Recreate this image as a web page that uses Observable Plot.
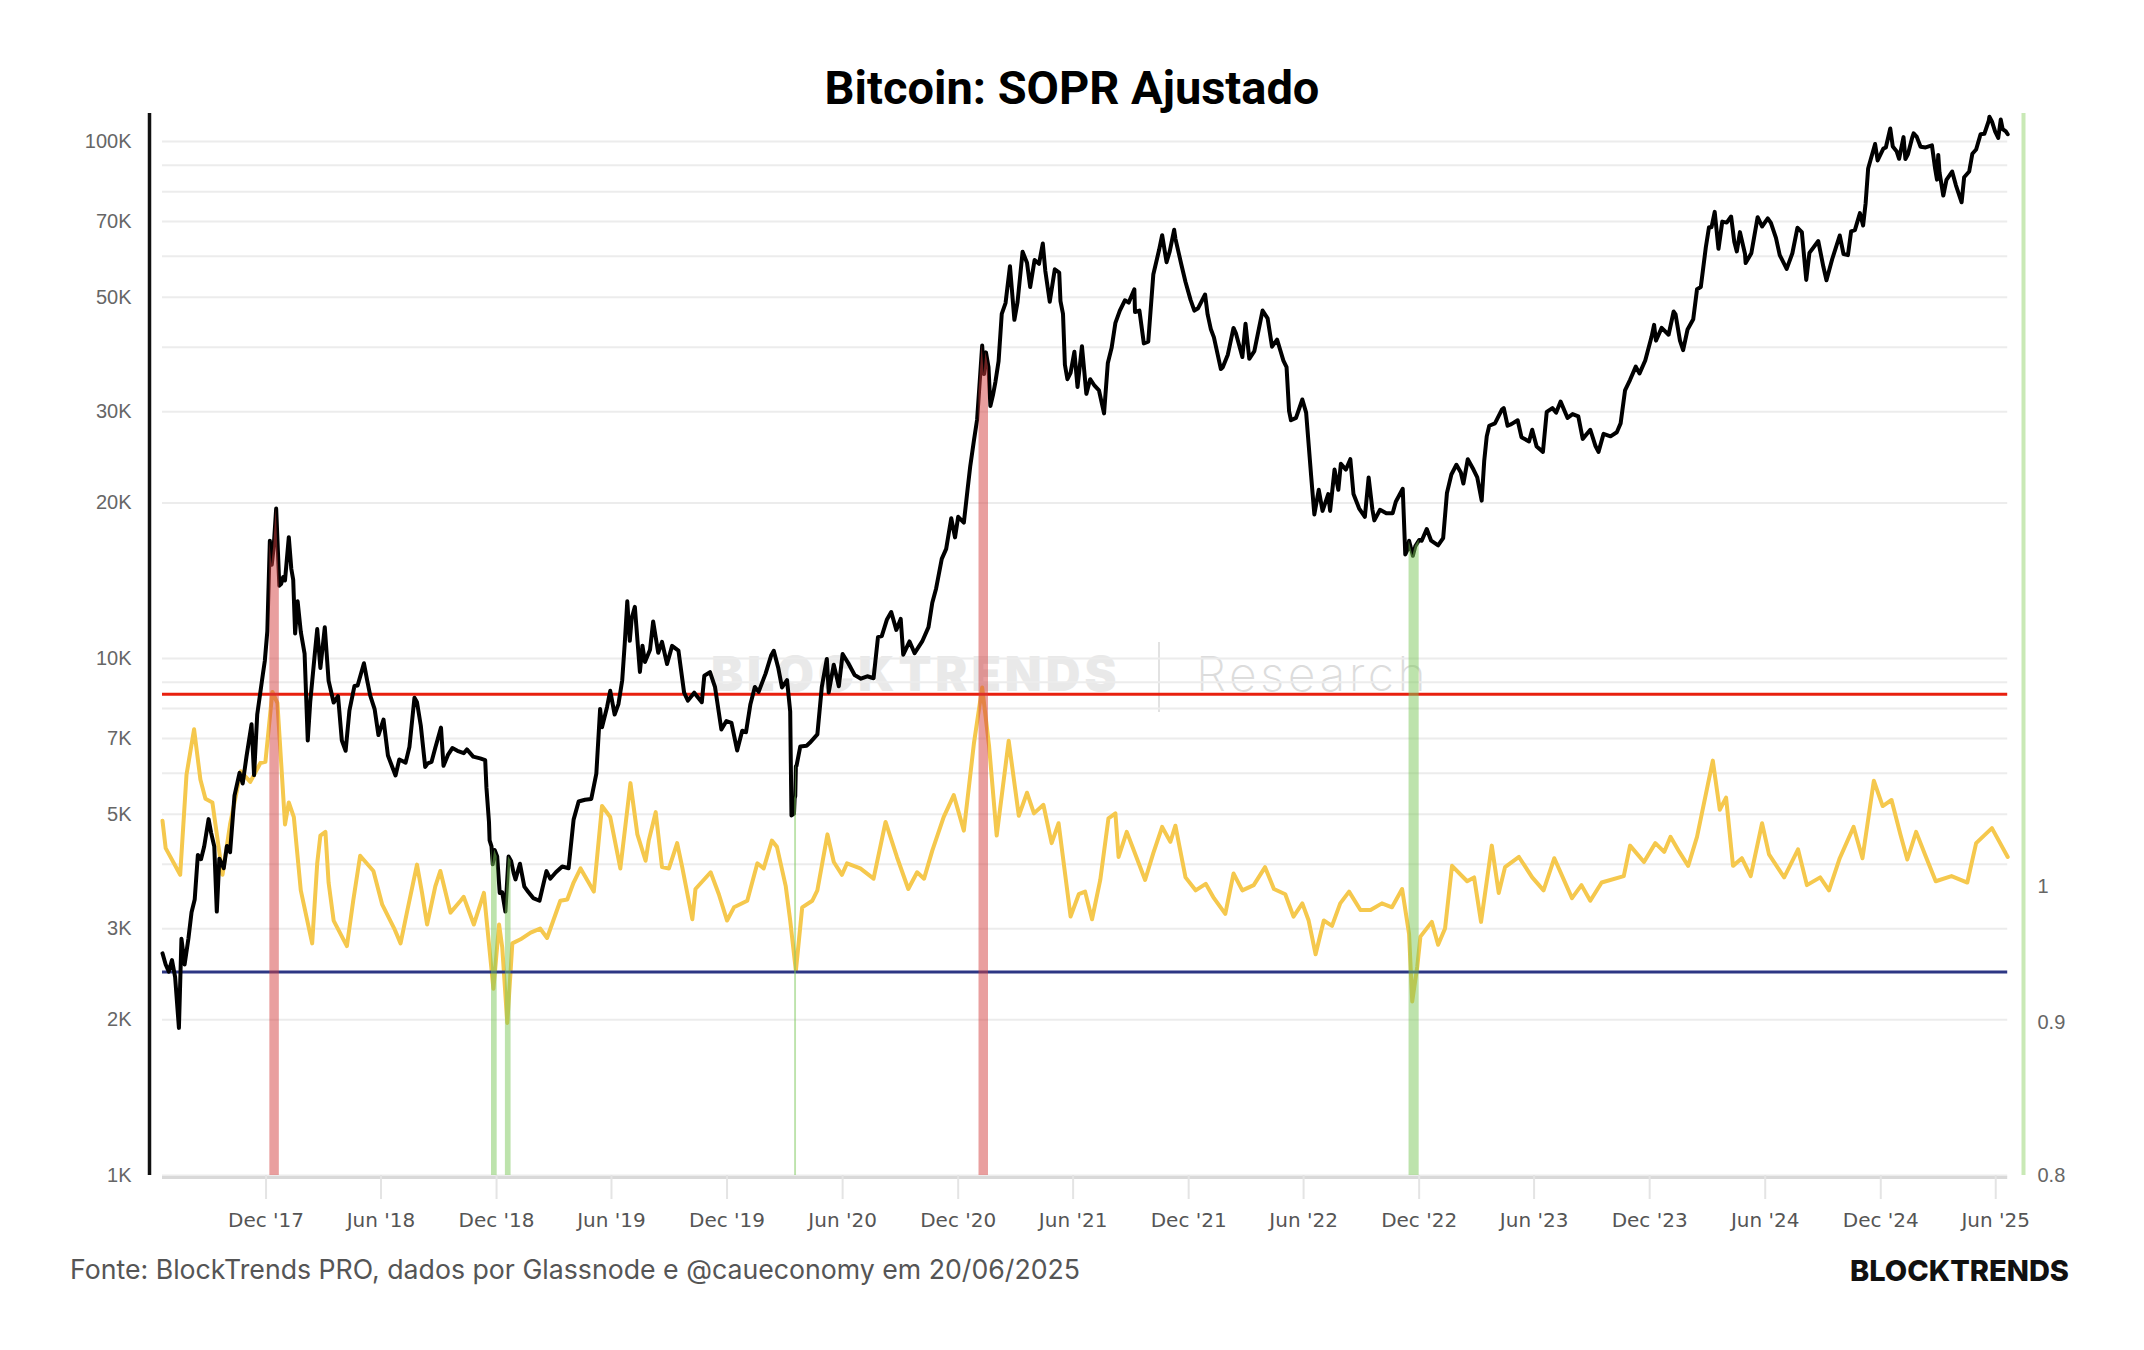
<!DOCTYPE html>
<html>
<head>
<meta charset="utf-8">
<script src="https://cdn.jsdelivr.net/npm/d3@7"></script>
<script src="https://cdn.jsdelivr.net/npm/@observablehq/plot@0.6"></script>
<style>
  html, body { margin: 0; padding: 0; background: #fff; }
  #page { position: relative; width: 2144px; height: 1350px; overflow: hidden; background: #fff; }
  #title { position: absolute; left: 0; top: 64px; width: 2144px; text-align: center;
           font: 700 47px Roboto, "Liberation Sans", sans-serif; line-height: 1; color: #000; }
  #chart { position: absolute; left: 0; top: 100px; width: 2144px; height: 1140px; }
  #chart svg { position: absolute; left: 0; top: 0; background: transparent !important; max-width: none !important; overflow: visible; }
  #wm { position: absolute; left: 0; top: 0; width: 2144px; height: 1350px; pointer-events: none; }
  #wm .b { position: absolute; left: 711px; top: 650px; font: 900 48px Inter, sans-serif; letter-spacing: 4px; color: #e9e9e9; line-height: 1; }
  #wm .bar { position: absolute; left: 1158px; top: 642px; width: 2px; height: 70px; background: #e2e2e2; }
  #wm .r { position: absolute; left: 1196px; top: 650px; font: 200 48px Inter, sans-serif; letter-spacing: 3.5px; color: #dcdcdc; line-height: 1; }
  #footer { position: absolute; left: 70px; top: 1256px; font: 400 26.7px Inter, sans-serif; color: #555; line-height: 1; }
  #logo { position: absolute; right: 75px; top: 1256px; font: 800 29px Inter, sans-serif; color: #111; line-height: 1; }
</style>
</head>
<body>
<div id="page">
  <div id="wm"><div class="b">BLOCKTRENDS</div><div class="bar"></div><div class="r">Research</div></div>
  <div id="title">Bitcoin: SOPR Ajustado</div>
  <div id="chart"></div>
  <div id="footer">Fonte: BlockTrends PRO, dados por Glassnode e @caueconomy em 20/06/2025</div>
  <div id="logo">BLOCKTRENDS</div>
</div>
<script>
// ---------- DATA ----------
const btcPrice = [
["2017-06-20",2690],["2017-06-25",2560],["2017-06-30",2480],["2017-07-05",2610],["2017-07-10",2420],["2017-07-16",1930],["2017-07-20",2870],["2017-07-25",2560],["2017-07-31",2870],["2017-08-05",3230],["2017-08-10",3420],["2017-08-15",4170],["2017-08-20",4090],["2017-08-25",4330],["2017-09-01",4890],["2017-09-05",4600],["2017-09-10",4330],["2017-09-14",3240],["2017-09-18",4100],["2017-09-25",3930],["2017-09-30",4340],["2017-10-05",4220],["2017-10-12",5430],["2017-10-20",6010],["2017-10-25",5730],["2017-10-31",6460],["2017-11-08",7460],["2017-11-12",5950],["2017-11-17",7790],["2017-11-26",9330],["2017-11-29",9890],["2017-12-03",11290],["2017-12-07",16900],["2017-12-10",15180],["2017-12-13",16400],["2017-12-17",19500],["2017-12-22",13830],["2017-12-25",13950],["2017-12-28",14380],["2017-12-31",14160],
["2018-01-06",17170],["2018-01-10",14900],["2018-01-13",14190],["2018-01-16",11180],["2018-01-20",12900],["2018-01-25",11260],["2018-01-31",10220],["2018-02-05",6940],["2018-02-09",8260],["2018-02-16",10160],["2018-02-20",11400],["2018-02-25",9590],["2018-03-04",11490],["2018-03-10",9060],["2018-03-18",8220],["2018-03-25",8460],["2018-03-31",6940],["2018-04-06",6630],["2018-04-12",7930],["2018-04-20",8850],["2018-04-25",8870],["2018-05-05",9790],["2018-05-10",9080],["2018-05-15",8480],["2018-05-22",7970],["2018-05-28",7110],["2018-06-05",7620],["2018-06-12",6490],["2018-06-24",5940],["2018-06-30",6380],["2018-07-10",6290],["2018-07-16",6740],["2018-07-24",8400],["2018-07-28",8230],["2018-08-03",7420],["2018-08-10",6170],["2018-08-14",6270],["2018-08-20",6310],["2018-08-26",6720],["2018-09-04",7350],["2018-09-08",6200],["2018-09-15",6510],["2018-09-22",6710],["2018-09-30",6630],["2018-10-10",6560],["2018-10-15",6670],["2018-10-25",6460],["2018-11-05",6410],["2018-11-13",6360],["2018-11-15",5620],["2018-11-19",4830],["2018-11-20",4450],["2018-11-23",4330],["2018-11-25",4000],["2018-11-28",4260],["2018-12-02",4140],["2018-12-06",3520],["2018-12-10",3530],["2018-12-15",3240],["2018-12-20",4140],["2018-12-24",4060],["2018-12-28",3850],["2018-12-31",3740],
["2019-01-07",4010],["2019-01-14",3620],["2019-01-20",3540],["2019-01-28",3440],["2019-02-07",3400],["2019-02-18",3880],["2019-02-24",3750],["2019-03-05",3860],["2019-03-15",3960],["2019-03-25",3930],["2019-04-02",4880],["2019-04-10",5290],["2019-04-20",5330],["2019-04-30",5350],["2019-05-08",5990],["2019-05-14",7990],["2019-05-17",7360],["2019-05-25",8060],["2019-05-30",8660],["2019-06-06",7790],["2019-06-12",8160],["2019-06-18",9080],["2019-06-22",10700],["2019-06-26",12900],["2019-06-30",10820],["2019-07-03",11960],["2019-07-08",12590],["2019-07-16",9420],["2019-07-20",10590],["2019-07-24",9850],["2019-08-01",10400],["2019-08-06",11790],["2019-08-14",10260],["2019-08-20",10770],["2019-08-28",9760],["2019-09-05",10580],["2019-09-15",10360],["2019-09-24",8590],["2019-09-30",8290],["2019-10-10",8590],["2019-10-22",8230],["2019-10-26",9260],["2019-11-04",9410],["2019-11-12",8800],["2019-11-22",7290],["2019-11-30",7570],["2019-12-08",7510],["2019-12-17",6640],["2019-12-25",7250],["2019-12-31",7200],
["2020-01-07",8160],["2020-01-14",8810],["2020-01-20",8620],["2020-01-31",9350],["2020-02-09",10150],["2020-02-13",10350],["2020-02-20",9600],["2020-02-26",8790],["2020-03-05",9080],["2020-03-10",7900],["2020-03-12",4970],["2020-03-16",5010],["2020-03-17",5360],["2020-03-18",5420],["2020-03-19",6190],["2020-03-20",6200],["2020-03-26",6760],["2020-04-05",6780],["2020-04-10",6870],["2020-04-22",7130],["2020-04-29",8800],["2020-05-07",9980],["2020-05-10",8600],["2020-05-18",9730],["2020-05-26",8840],["2020-06-01",10200],["2020-06-10",9790],["2020-06-20",9290],["2020-06-30",9140],["2020-07-10",9240],["2020-07-20",9160],["2020-07-27",11000],["2020-08-02",11050],["2020-08-10",11880],["2020-08-17",12300],["2020-08-25",11360],["2020-09-01",11930],["2020-09-05",10170],["2020-09-15",10790],["2020-09-23",10240],["2020-10-05",10790],["2020-10-15",11500],["2020-10-21",12820],["2020-10-27",13650],["2020-11-05",15590],["2020-11-12",16300],["2020-11-20",18680],["2020-11-26",17150],["2020-12-01",18800],["2020-12-10",18320],["2020-12-16",21300],["2020-12-20",23500],["2020-12-26",26440],["2020-12-31",29000],
["2021-01-03",32780],["2021-01-08",40300],["2021-01-11",35500],["2021-01-14",39100],["2021-01-18",36600],["2021-01-21",30800],["2021-01-25",32300],["2021-01-29",34300],["2021-02-03",37600],["2021-02-08",46400],["2021-02-14",48700],["2021-02-21",57400],["2021-02-28",45200],["2021-03-05",48900],["2021-03-13",61200],["2021-03-20",58300],["2021-03-25",52300],["2021-04-01",59000],["2021-04-08",58000],["2021-04-14",63500],["2021-04-18",56200],["2021-04-25",49000],["2021-05-03",56600],["2021-05-10",55800],["2021-05-12",49150],["2021-05-16",46400],["2021-05-19",37000],["2021-05-23",34700],["2021-05-28",35700],["2021-06-03",39200],["2021-06-08",33500],["2021-06-15",40200],["2021-06-22",32500],["2021-06-28",34700],["2021-07-05",33700],["2021-07-12",33000],["2021-07-20",29800],["2021-07-26",37300],["2021-08-01",39900],["2021-08-07",44600],["2021-08-14",47100],["2021-08-22",49300],["2021-08-28",48800],["2021-09-06",51800],["2021-09-07",46800],["2021-09-14",47100],["2021-09-21",40700],["2021-09-28",41000],["2021-10-06",55300],["2021-10-15",61600],["2021-10-20",65900],["2021-10-27",58400],["2021-11-01",61300],["2021-11-08",67500],["2021-11-10",64900],["2021-11-16",60300],["2021-11-19",58100],["2021-11-26",53500],["2021-12-04",49400],["2021-12-10",47100],["2021-12-16",47600],["2021-12-27",50600],["2021-12-31",46300],
["2022-01-05",43400],["2022-01-10",41800],["2022-01-21",36300],["2022-01-24",36600],["2022-02-01",38700],["2022-02-10",43600],["2022-02-14",42500],["2022-02-24",38300],["2022-03-01",44400],["2022-03-07",38000],["2022-03-15",39300],["2022-03-28",47100],["2022-04-05",45500],["2022-04-12",40100],["2022-04-20",41400],["2022-04-30",37700],["2022-05-05",36600],["2022-05-09",30100],["2022-05-12",28900],["2022-05-20",29200],["2022-05-30",31700],["2022-06-05",29900],["2022-06-13",22500],["2022-06-18",19000],["2022-06-25",21200],["2022-07-01",19300],["2022-07-10",20800],["2022-07-13",19300],["2022-07-20",23200],["2022-07-26",21200],["2022-07-30",23800],["2022-08-07",23200],["2022-08-14",24300],["2022-08-19",20800],["2022-08-28",19500],["2022-09-06",18800],["2022-09-12",22400],["2022-09-18",19400],["2022-09-21",18500],["2022-09-30",19400],["2022-10-10",19100],["2022-10-20",19100],["2022-10-25",20100],["2022-11-05",21300],["2022-11-09",15900],["2022-11-13",16300],["2022-11-15",16900],["2022-11-21",15800],["2022-11-25",16500],["2022-12-01",16950],["2022-12-05",16900],["2022-12-13",17800],["2022-12-20",16900],["2022-12-31",16550],
["2023-01-08",17100],["2023-01-14",20900],["2023-01-21",22700],["2023-01-29",23700],["2023-02-05",22900],["2023-02-09",21800],["2023-02-16",24300],["2023-02-25",23200],["2023-03-03",22400],["2023-03-10",20200],["2023-03-14",24100],["2023-03-18",26900],["2023-03-22",28200],["2023-03-31",28500],["2023-04-11",30300],["2023-04-14",30500],["2023-04-20",28200],["2023-04-26",28400],["2023-05-06",28900],["2023-05-12",26800],["2023-05-24",26300],["2023-05-29",27700],["2023-06-05",25700],["2023-06-15",25100],["2023-06-21",30000],["2023-06-30",30500],["2023-07-06",29900],["2023-07-13",31400],["2023-07-24",29200],["2023-08-01",29700],["2023-08-10",29400],["2023-08-17",26600],["2023-08-29",27700],["2023-09-06",25800],["2023-09-11",25100],["2023-09-19",27200],["2023-09-30",26900],["2023-10-10",27400],["2023-10-16",28500],["2023-10-23",33000],["2023-10-31",34600],["2023-11-09",36700],["2023-11-15",35600],["2023-11-24",37700],["2023-12-04",41900],["2023-12-08",44200],["2023-12-11",41200],["2023-12-20",43600],["2023-12-31",42300],
["2024-01-08",46900],["2024-01-11",46300],["2024-01-18",41200],["2024-01-23",39500],["2024-01-30",43300],["2024-02-08",45300],["2024-02-14",51800],["2024-02-20",52300],["2024-02-28",62500],["2024-03-04",68300],["2024-03-08",68300],["2024-03-13",73100],["2024-03-19",62000],["2024-03-25",70000],["2024-04-01",69700],["2024-04-08",71600],["2024-04-13",64000],["2024-04-17",61300],["2024-04-22",66800],["2024-04-30",60600],["2024-05-01",58200],["2024-05-10",60800],["2024-05-20",71400],["2024-05-27",68500],["2024-06-05",71000],["2024-06-10",69600],["2024-06-18",65100],["2024-06-24",60300],["2024-07-05",56700],["2024-07-14",60800],["2024-07-22",68100],["2024-07-29",66800],["2024-08-05",54000],["2024-08-10",60900],["2024-08-24",64200],["2024-09-01",57300],["2024-09-06",53900],["2024-09-15",59200],["2024-09-27",65800],["2024-10-03",60600],["2024-10-10",60300],["2024-10-15",67000],["2024-10-21",67400],["2024-10-29",72700],["2024-11-03",68800],["2024-11-07",76000],["2024-11-11",88700],["2024-11-13",90500],["2024-11-22",98900],["2024-11-26",91900],["2024-12-05",96900],["2024-12-09",97400],["2024-12-16",106000],["2024-12-20",97800],["2024-12-26",95800],["2024-12-30",92600],
["2025-01-06",102000],["2025-01-09",92500],["2025-01-13",94500],["2025-01-20",102000],["2025-01-22",103700],["2025-01-27",102100],["2025-02-02",97700],["2025-02-10",97400],["2025-02-20",98300],["2025-02-25",88700],["2025-02-28",84400],["2025-03-02",94200],["2025-03-04",87200],["2025-03-10",78600],["2025-03-15",84300],["2025-03-24",87500],["2025-03-30",82300],["2025-04-08",76300],["2025-04-12",85300],["2025-04-20",87500],["2025-04-25",94700],["2025-05-01",96500],["2025-05-08",103300],["2025-05-14",103500],["2025-05-21",109700],["2025-05-22",111700],["2025-05-26",109400],["2025-05-31",104600],["2025-06-05",101600],["2025-06-09",110300],["2025-06-12",105700],["2025-06-17",104600],["2025-06-20",103300]
];

const soprAdjusted = [
["2017-06-20",1.052],["2017-06-25",1.030],["2017-07-18",1.009],["2017-07-28",1.090],["2017-08-09",1.129],["2017-08-19",1.086],["2017-08-27",1.070],["2017-09-07",1.067],["2017-09-23",1.009],["2017-10-05",1.049],["2017-10-22",1.093],["2017-11-06",1.084],["2017-11-22",1.100],["2017-11-30",1.101],["2017-12-11",1.162],["2017-12-19",1.152],["2017-12-31",1.049],
["2018-01-06",1.067],["2018-01-14",1.055],["2018-01-25",0.997],["2018-02-12",0.957],["2018-02-20",1.018],["2018-02-25",1.040],["2018-03-05",1.043],["2018-03-10",1.003],["2018-03-18",0.974],["2018-04-08",0.955],["2018-04-18",0.989],["2018-04-29",1.024],["2018-05-20",1.012],["2018-06-03",0.986],["2018-06-22",0.968],["2018-07-02",0.957],["2018-07-12",0.980],["2018-07-28",1.017],["2018-08-05",0.995],["2018-08-13",0.971],["2018-08-26",1.000],["2018-09-03",1.012],["2018-09-19",0.980],["2018-10-05",0.989],["2018-10-10",0.992],["2018-10-26",0.971],["2018-11-11",0.995],["2018-11-26",0.924],["2018-12-05",0.971],["2018-12-10",0.954],["2018-12-18",0.900],["2018-12-26",0.957],
["2019-01-08",0.960],["2019-01-24",0.965],["2019-02-08",0.968],["2019-02-19",0.961],["2019-03-12",0.989],["2019-03-23",0.990],["2019-04-02",1.003],["2019-04-13",1.014],["2019-05-04",0.996],["2019-05-17",1.064],["2019-05-30",1.055],["2019-06-15",1.014],["2019-07-01",1.083],["2019-07-12",1.041],["2019-07-25",1.020],["2019-07-30",1.036],["2019-08-10",1.059],["2019-08-20",1.015],["2019-08-31",1.014],["2019-09-13",1.034],["2019-09-21",1.015],["2019-10-07",0.975],["2019-10-12",0.998],["2019-11-05",1.011],["2019-11-18",0.994],["2019-12-01",0.974],["2019-12-12",0.984],
["2020-01-02",0.989],["2020-01-18",1.018],["2020-01-28",1.014],["2020-02-10",1.036],["2020-02-18",1.031],["2020-03-03",1.000],["2020-03-10",0.974],["2020-03-19",0.937],["2020-03-29",0.984],["2020-04-14",0.989],["2020-04-22",0.997],["2020-05-08",1.041],["2020-05-18",1.019],["2020-05-31",1.009],["2020-06-08",1.018],["2020-06-29",1.014],["2020-07-20",1.006],["2020-08-08",1.051],["2020-08-26",1.023],["2020-09-13",0.998],["2020-09-27",1.011],["2020-10-08",1.006],["2020-10-21",1.028],["2020-11-08",1.055],["2020-11-24",1.073],["2020-12-10",1.044],["2020-12-26",1.117],
["2021-01-08",1.166],["2021-01-19",1.114],["2021-01-31",1.040],["2021-02-19",1.119],["2021-03-07",1.056],["2021-03-20",1.075],["2021-03-31",1.058],["2021-04-15",1.065],["2021-04-28",1.034],["2021-05-09",1.050],["2021-05-28",0.977],["2021-06-10",0.994],["2021-06-20",0.996],["2021-07-01",0.975],["2021-07-14",1.005],["2021-07-27",1.054],["2021-08-07",1.058],["2021-08-12",1.023],["2021-08-25",1.043],["2021-09-23",1.005],["2021-10-06",1.026],["2021-10-20",1.047],["2021-11-02",1.035],["2021-11-10",1.048],["2021-11-26",1.007],["2021-12-12",0.997],["2021-12-28",1.002],
["2022-01-10",0.991],["2022-01-28",0.979],["2022-02-10",1.010],["2022-02-24",0.997],["2022-03-14",1.001],["2022-04-01",1.015],["2022-04-15",0.998],["2022-05-03",0.994],["2022-05-16",0.977],["2022-05-30",0.987],["2022-06-09",0.974],["2022-06-20",0.949],["2022-07-03",0.974],["2022-07-16",0.970],["2022-07-29",0.987],["2022-08-12",0.996],["2022-08-30",0.982],["2022-09-15",0.982],["2022-10-03",0.987],["2022-10-19",0.984],["2022-11-04",0.998],["2022-11-15",0.964],["2022-11-20",0.915],["2022-11-28",0.940],["2022-12-03",0.962],["2022-12-21",0.973],["2022-12-31",0.956],
["2023-01-11",0.968],["2023-01-22",1.016],["2023-02-15",1.004],["2023-02-26",1.007],["2023-03-09",0.973],["2023-03-26",1.032],["2023-04-06",0.995],["2023-04-16",1.015],["2023-05-08",1.023],["2023-05-29",1.007],["2023-06-16",0.997],["2023-07-03",1.022],["2023-07-31",0.991],["2023-08-15",1.001],["2023-08-29",0.989],["2023-09-16",1.003],["2023-10-21",1.008],["2023-10-31",1.032],["2023-11-22",1.019],["2023-12-10",1.034],["2023-12-24",1.027],
["2024-01-03",1.039],["2024-01-17",1.027],["2024-01-31",1.016],["2024-02-14",1.039],["2024-03-10",1.102],["2024-03-21",1.061],["2024-03-31",1.071],["2024-04-11",1.016],["2024-04-25",1.022],["2024-05-09",1.008],["2024-05-27",1.050],["2024-06-07",1.025],["2024-07-01",1.007],["2024-07-23",1.029],["2024-08-06",1.001],["2024-08-27",1.007],["2024-09-10",0.997],["2024-09-27",1.022],["2024-10-19",1.047],["2024-11-02",1.022],["2024-11-20",1.085],["2024-12-04",1.064],["2024-12-18",1.069],
["2025-01-01",1.041],["2025-01-12",1.021],["2025-01-26",1.043],["2025-02-09",1.025],["2025-02-26",1.004],["2025-03-23",1.008],["2025-04-17",1.003],["2025-05-01",1.034],["2025-05-26",1.046],["2025-06-20",1.023]
];

// Signal periods (SOPR above upper / below lower threshold)
const redSignals = [["2017-12-07","2017-12-22"],["2021-01-03","2021-01-18"]];
const greenSignals = [["2018-11-23","2018-12-02"],["2018-12-15","2018-12-24"],["2020-03-17","2020-03-20"],["2022-11-15","2022-12-01"]];

const soprUpper = 1.16;
const soprLower = 0.936;

const priceTickLabels = [1000, 2000, 3000, 5000, 7000, 10000, 20000, 30000, 50000, 70000, 100000];
const priceGridTicks = [1000,2000,3000,4000,5000,6000,7000,8000,9000,10000,20000,30000,40000,50000,60000,70000,80000,90000,100000];
const soprTickLabels = [0.8, 0.9, 1];
const xTickLabels = ["Dec '17","Jun '18","Dec '18","Jun '19","Dec '19","Jun '20","Dec '20","Jun '21","Dec '21","Jun '22","Dec '22","Jun '23","Dec '23","Jun '24","Dec '24","Jun '25"];

// ---------- BUILD ----------
const parse = d3.utcParse("%Y-%m-%d");
const price = btcPrice.map(([d, v]) => ({date: parse(d), value: v}));
const sopr = soprAdjusted.map(([d, v]) => ({date: parse(d), value: v}));
const xStart = price[0].date;
const dataEnd = price[price.length - 1].date;
const xEnd = parse("2025-07-15");
const monthIdx = {Dec: 11, Jun: 5};
const xTicks = xTickLabels.map(s => new Date(Date.UTC(2000 + +s.slice(5), monthIdx[s.slice(0, 3)], 1)));

const W = 2144, H = 1140;
const common = {
  width: W, height: H,
  marginLeft: 162, marginRight: 121, marginTop: 13, marginBottom: 65,
  style: {background: "transparent", overflow: "visible"}
};
const xScale = {type: "utc", domain: [xStart, xEnd]};
const priceY = {type: "log", domain: [1000, 113300]};
const soprY = {type: "log", domain: [0.8, 1.816]};
const labelFont = "'Liberation Sans', Arial, sans-serif";

const baseLayer = Plot.plot({
  ...common,
  x: {...xScale},
  y: {...priceY, axis: null},
  marks: [
    Plot.ruleY(priceGridTicks, {x1: () => xStart, x2: () => dataEnd, stroke: "#ececec", strokeWidth: 2}),
    Plot.ruleY([1000], {x1: () => xStart, x2: () => dataEnd, stroke: "#d9d9d9", strokeWidth: 3, dy: 2}),
    Plot.axisX({ticks: xTicks, tickFormat: (d, i) => xTickLabels[i], tickSize: 24, tickPadding: 13,
      stroke: "#e4e4e4", strokeWidth: 2, fill: "#555", fontSize: 20, fontFamily: "'DejaVu Sans', sans-serif", label: null}),
    Plot.text(priceTickLabels, {y: d => d, text: d => d / 1000 + "K", frameAnchor: "left", dx: -31,
      textAnchor: "end", fill: "#666", fontSize: 20, fontFamily: labelFont}),
    Plot.ruleX([xStart], {dx: -13, stroke: "#111", strokeWidth: 3.5})
  ]
});

const soprLayer = Plot.plot({
  ...common,
  x: {...xScale, axis: null},
  y: {...soprY, axis: null},
  marks: [
    Plot.line(sopr, {x: "date", y: "value", stroke: "#f5c84d", strokeWidth: 4, strokeLinejoin: "round"}),
    Plot.ruleY([soprUpper], {x1: () => xStart, x2: () => dataEnd, stroke: "#e8200f", strokeWidth: 3}),
    Plot.ruleY([soprLower], {x1: () => xStart, x2: () => dataEnd, stroke: "#2d3784", strokeWidth: 3}),
    Plot.ruleX([xEnd], {stroke: "#c9e9b6", strokeWidth: 4}),
    Plot.text(soprTickLabels, {y: d => d, text: d => String(d), frameAnchor: "right", dx: 14,
      textAnchor: "start", fill: "#666", fontSize: 20, fontFamily: labelFont})
  ]
});

const inRange = ([a, b]) => price.filter(d => d.date >= parse(a) && d.date <= parse(b));
const priceLayer = Plot.plot({
  ...common,
  x: {...xScale, axis: null},
  y: {...priceY, axis: null},
  marks: [
    Plot.line(price, {x: "date", y: "value", stroke: "#000", strokeWidth: 4, strokeLinejoin: "round"}),
    ...redSignals.map(r => Plot.areaY(inRange(r), {x: "date", y1: () => 1000, y2: "value", fill: "#d43f3f", fillOpacity: 0.5})),
    ...greenSignals.map(r => Plot.areaY(inRange(r), {x: "date", y1: () => 1000, y2: "value", fill: "#7cc85a", fillOpacity: 0.5}))
  ]
});

const chartEl = document.getElementById("chart");
chartEl.appendChild(baseLayer);
chartEl.appendChild(soprLayer);
chartEl.appendChild(priceLayer);
</script>
</body>
</html>
